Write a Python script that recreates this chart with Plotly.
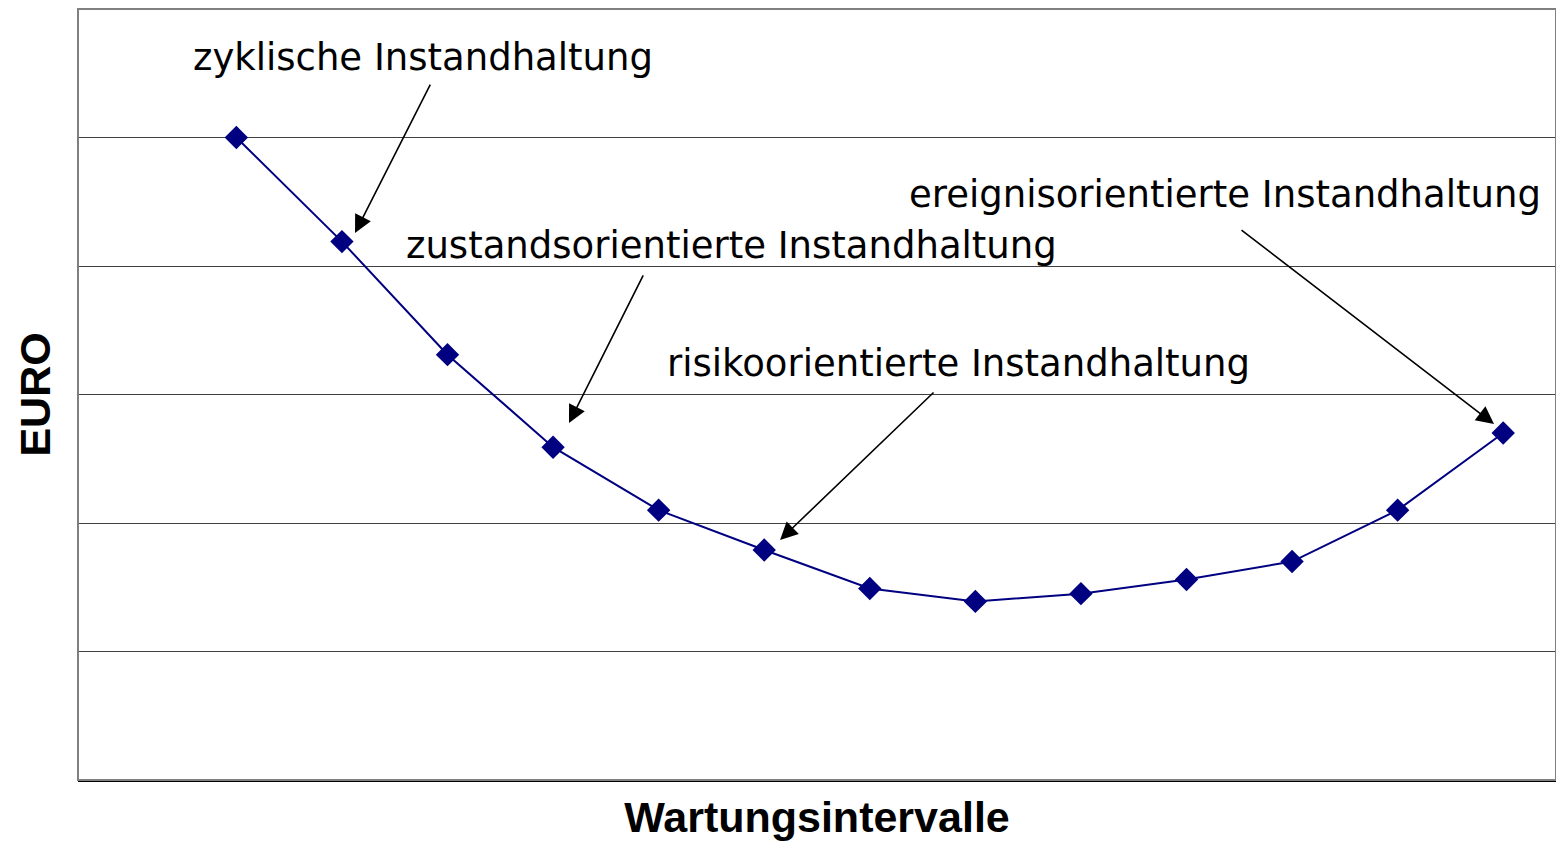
import plotly.graph_objects as go

# Data
intervals = [1, 2, 3, 4, 5, 6, 7, 8, 9, 10, 11, 12, 13]
euro = [5.00, 4.19, 3.31, 2.59, 2.10, 1.79, 1.49, 1.39, 1.45, 1.56, 1.70, 2.10, 2.70]
grid_vals = [1, 2, 3, 4, 5]

labels = ["zyklische Instandhaltung", "zustandsorientierte Instandhaltung",
          "risikoorientierte Instandhaltung", "ereignisorientierte Instandhaltung"]
label_pos = [(0.570, 5.626), (2.588, 4.156), (5.060, 3.245), (7.353, 4.560)]
arrow_tail = [(2.844, 5.424), (4.861, 3.938), (7.618, 3.027), (10.507, 4.288)]
arrow_head = [(2.124, 4.257), (4.151, 2.778), (6.150, 1.868), (12.913, 2.770)]

NAVY = "#000080"
FONT = "DejaVu Sans"

fig = go.Figure()
fig.add_trace(go.Scatter(
    x=intervals, y=euro, mode="lines+markers",
    line=dict(color=NAVY, width=2),
    marker=dict(symbol="diamond", size=18, color=NAVY),
    showlegend=False, hoverinfo="skip"))

annotations = []
for (tx, ty), (hx, hy) in zip(arrow_tail, arrow_head):
    annotations.append(dict(
        x=hx, y=hy, ax=tx, ay=ty, xref="x", yref="y", axref="x", ayref="y",
        text="", showarrow=True, arrowhead=2, arrowsize=2.2, arrowwidth=1.6,
        arrowcolor="black"))
for text, (lx, ly) in zip(labels, label_pos):
    annotations.append(dict(
        x=lx, y=ly, xref="x", yref="y", text=text, showarrow=False,
        xanchor="left", yanchor="middle",
        font=dict(family=FONT, size=37, color="black")))

fig.update_layout(
    width=1564, height=842,
    margin=dict(l=70, r=16, t=1, b=70, autoexpand=False),
    paper_bgcolor="white", plot_bgcolor="white",
    annotations=annotations,
    shapes=[dict(type="rect", xref="paper", yref="paper", x0=0, y0=0, x1=1, y1=1,
                 line=dict(color="#808080", width=2), layer="above")],
    xaxis=dict(range=[-0.5, 13.5], showgrid=False, zeroline=False,
               showticklabels=False, ticks="", automargin=False,
               showline=True, linecolor="black", linewidth=1.5,
               title=dict(text="<b>Wartungsintervalle</b>", standoff=21,
                          font=dict(family="Liberation Sans, Arial", size=43, color="black"))),
    yaxis=dict(range=[0, 6], tickvals=grid_vals, showgrid=True, gridcolor="#404040",
               gridwidth=1, zeroline=False, showticklabels=False, ticks="",
               showline=False, automargin=False,
               title=dict(text="<b>EURO</b>", standoff=12,
                          font=dict(family="Liberation Sans, Arial", size=43, color="black"))),
)

fig.write_html("out.html")
